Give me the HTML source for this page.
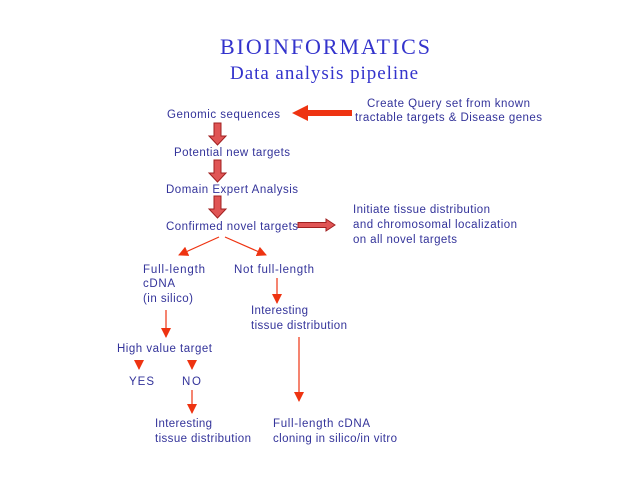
<!DOCTYPE html>
<html><head><meta charset="utf-8"><style>
html,body{margin:0;padding:0;background:#fff;width:640px;height:480px;overflow:hidden}
svg text{font-family:"Liberation Sans",sans-serif;font-size:11.5px;fill:#33339a}
</style></head><body>
<svg width="640" height="480" viewBox="0 0 640 480" xmlns="http://www.w3.org/2000/svg">
<defs>
<marker id="ah" markerWidth="10" markerHeight="10" refX="9" refY="5" orient="auto" markerUnits="userSpaceOnUse">
<path d="M0,0 L10,5 L0,10 Z" fill="#ee3311"/>
</marker>
<g id="da"><path d="M-3.5,0 H3.5 V13 H8.5 L0,22 L-8.5,13 H-3.5 Z" fill="#e05555" stroke="#a02020" stroke-width="1"/></g>
</defs>
<text x="325" y="54" text-anchor="middle" textLength="210" style="font-family:'Liberation Serif',serif;font-size:22px;fill:#3333cc">BIOINFORMATICS</text>
<text x="324" y="79" text-anchor="middle" textLength="188" style="font-family:'Liberation Serif',serif;font-size:19px;fill:#3333cc">Data analysis pipeline</text>

<text x="167" y="118" textLength="113">Genomic sequences</text>
<text x="367" y="107" textLength="163">Create Query set from known</text>
<text x="355" y="121" textLength="187">tractable targets &amp; Disease genes</text>
<path d="M352,110 H308 V105 L292,113 L308,121 V116 H352 Z" fill="#ee3311"/>

<use href="#da" x="217.5" y="123"/>
<text x="174" y="156" textLength="116">Potential new targets</text>
<use href="#da" x="217.5" y="160"/>
<text x="166" y="193" textLength="132">Domain Expert Analysis</text>
<use href="#da" x="217.5" y="196"/>
<text x="166" y="230" textLength="132">Confirmed novel targets</text>
<path d="M298,222.5 H326 V219 L335,225 L326,231 V227.5 H298 Z" fill="#e05555" stroke="#a02020" stroke-width="1"/>
<text x="353" y="213" textLength="137">Initiate tissue distribution</text>
<text x="353" y="228" textLength="164">and chromosomal localization</text>
<text x="353" y="243" textLength="104">on all novel targets</text>

<g stroke="#ee3311" stroke-width="1.2" fill="none" marker-end="url(#ah)">
<line x1="219" y1="237" x2="179" y2="255"/>
<line x1="225" y1="237" x2="266" y2="255"/>
<line x1="277" y1="278" x2="277" y2="303"/>
<line x1="166" y1="310" x2="166" y2="337"/>
<line x1="139" y1="360" x2="139" y2="369"/>
<line x1="192" y1="360" x2="192" y2="369"/>
<line x1="192" y1="390" x2="192" y2="413"/>
<line x1="299" y1="337" x2="299" y2="401"/>
</g>

<text x="143" y="273" textLength="62">Full-length</text>
<text x="143" y="287" textLength="32">cDNA</text>
<text x="143" y="302" textLength="50">(in silico)</text>
<text x="234" y="273" textLength="80">Not full-length</text>
<text x="251" y="314" textLength="57">Interesting</text>
<text x="251" y="329" textLength="96">tissue distribution</text>
<text x="117" y="352" textLength="95">High value target</text>
<text x="129" y="385" textLength="25">YES</text>
<text x="182" y="385" textLength="19">NO</text>
<text x="155" y="427" textLength="57">Interesting</text>
<text x="155" y="442" textLength="96">tissue distribution</text>
<text x="273" y="427" textLength="97">Full-length cDNA</text>
<text x="273" y="442" textLength="124">cloning in silico/in vitro</text>
</svg>
</body></html>
